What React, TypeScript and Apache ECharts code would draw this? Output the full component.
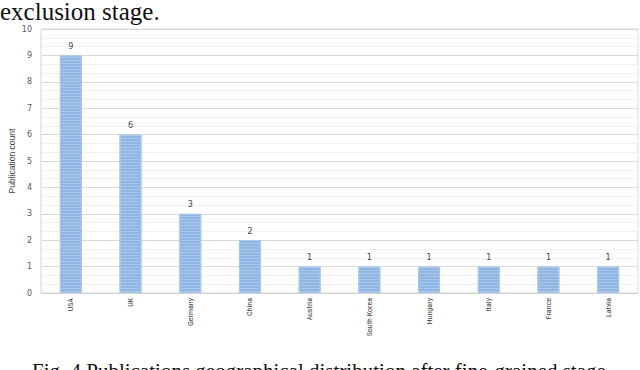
import React, { useEffect, useRef } from "react";
import * as echarts from "echarts";

const countries = ["USA", "UK", "Germany", "China", "Austria", "South Korea", "Hungary", "Italy", "France", "Latvia"];
const counts = [9, 6, 3, 2, 1, 1, 1, 1, 1, 1];
const yTicks = [0, 10, 1];
const topText = "exclusion stage.";
const captionText = "Fig. 4 Publications geographical distribution after fine-grained stage";
const yAxisTitle = "Publication count";

export default function App() {
  const ref = useRef<HTMLDivElement>(null);
  useEffect(() => {
    document.body.style.margin = "0";
    const chart = echarts.init(ref.current!, null, { renderer: "svg" });
    chart.setOption({
      animation: false,
      backgroundColor: "#ffffff",
      grid: {
        left: 41, right: 2, top: 29, bottom: 77,
        show: true, borderColor: "#d9d9d9", borderWidth: 1,
        containLabel: false, outerBoundsMode: "none",
      },
      xAxis: {
        type: "category",
        data: countries,
        axisTick: { show: false },
        axisLine: { lineStyle: { color: "#d0d0d0" } },
        axisLabel: { rotate: 90, fontSize: 8, color: "#404040", margin: 5, fontFamily: "'Liberation Sans Narrow', 'Roboto Condensed', Arial, sans-serif" },
      },
      yAxis: {
        type: "value",
        min: yTicks[0],
        max: yTicks[1],
        interval: yTicks[2],
        name: yAxisTitle,
        nameLocation: "middle",
        nameRotate: 90,
        nameGap: 25,
        nameMoveOverlap: false,
        nameTextStyle: { fontSize: 8.5, color: "#404040", fontFamily: "'Liberation Sans Narrow', Arial, sans-serif" },
        axisLine: { show: true, lineStyle: { color: "#dfe6ee" } },
        axisTick: { show: false },
        axisLabel: { fontSize: 8, color: "#595959", margin: 9, fontFamily: "DejaVu Sans, sans-serif" },
        splitLine: { lineStyle: { color: "#d9d9d9" } },
        minorSplitLine: { show: true, lineStyle: { color: "#f1f1f1" } },
        minorTick: { show: false, splitNumber: 3 },
      },
      series: [
        {
          type: "bar",
          data: counts,
          barWidth: 22,
          itemStyle: {
            color: "#8fb6e3",
            borderColor: "#a9c6e8",
            borderWidth: 1,
            decal: { symbol: "rect", dashArrayX: [1, 0], dashArrayY: [1, 2], color: "rgba(255,255,255,0.22)", rotation: 0 },
          },
          label: { show: true, position: "top", distance: 5, fontSize: 8, color: "#404040", fontFamily: "DejaVu Sans, sans-serif" },
        },
      ],
      graphic: [
        {
          type: "text",
          left: 0,
          top: -1,
          style: { text: topText, font: "25px 'Liberation Serif', serif", fill: "#111" },
        },
        {
          type: "text",
          left: 32,
          top: 360,
          style: { text: captionText, font: "21px 'Liberation Serif', serif", fill: "#111" },
        },
      ],
    });
    return () => chart.dispose();
  }, []);
  return <div ref={ref} style={{ position: "absolute", left: 0, top: 0, width: 640, height: 370 }} />;
}
